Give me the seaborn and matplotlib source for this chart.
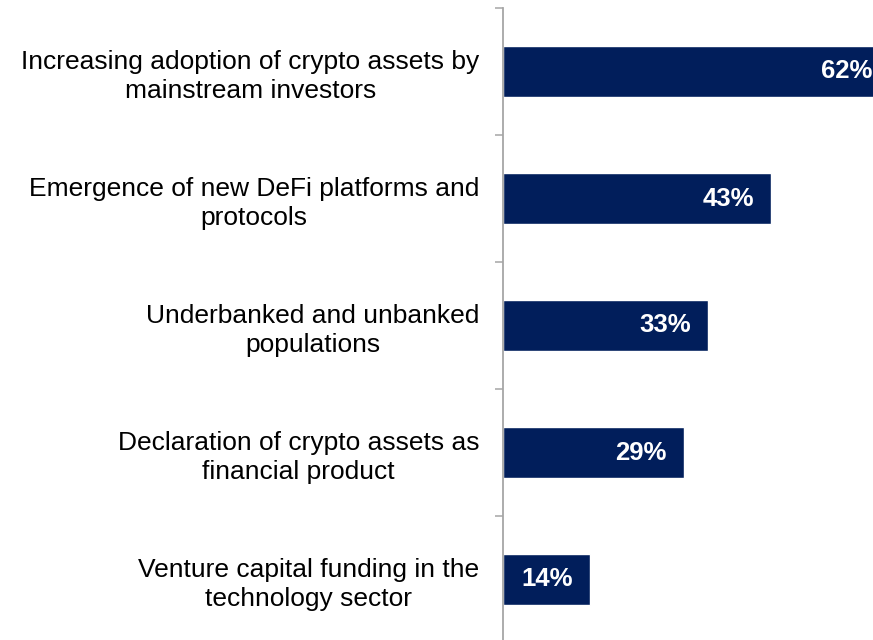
import matplotlib
matplotlib.use("Agg")
import matplotlib.pyplot as plt
import seaborn as sns
import pandas as pd

categories = [
    "Increasing adoption of crypto assets by\nmainstream investors",
    "Emergence of new DeFi platforms and\nprotocols",
    "Underbanked and unbanked\npopulations",
    "Declaration of crypto assets as\nfinancial product",
    "Venture capital funding in the\ntechnology sector",
]
values = [62, 43, 33, 29, 14]
value_labels = ["62%", "43%", "33%", "29%", "14%"]

sns.set_theme(style="white")
plt.rcParams["font.family"] = ["Liberation Sans", "DejaVu Sans"]

df = pd.DataFrame({"category": categories, "value": values})

W, H = 873, 640
fig = plt.figure(figsize=(W / 100, H / 100), dpi=100)
fig.patch.set_facecolor("white")
ax_left, ax_right = 503, 889
ax_top, ax_bottom = 8, 643
ax = fig.add_axes([ax_left / W, (H - ax_bottom) / H, (ax_right - ax_left) / W, (ax_bottom - ax_top) / H])
ax.set_facecolor("none")

sns.barplot(data=df, x="value", y="category", orient="h", color="#011e5b",
            width=0.4, saturation=1, ax=ax)

ax.set_xlim(0, 62)
ax.set_ylim(4.5, -0.5)
ax.set_xlabel("")
ax.set_ylabel("")
ax.set_xticks([])

for i, (v, lab) in enumerate(zip(values, value_labels)):
    ax.annotate(lab, xy=(v, i), xytext=(-17, 0), textcoords="offset pixels",
                ha="right", va="center", color="white", fontsize=18.5,
                fontweight="bold", annotation_clip=False)

ax.set_yticks(range(len(categories)))
ax.set_yticklabels(categories, fontsize=19, color="black", linespacing=1.28)
for t in ax.get_yticklabels():
    t.set_multialignment("center")
ax.tick_params(axis="y", which="major", length=0, pad=17)
ax.set_yticks([i - 0.5 for i in range(len(categories) + 1)], minor=True)
ax.tick_params(axis="y", which="minor", length=6, width=1.1, color="#a6a6a6", left=True)

for s in ["top", "right", "bottom"]:
    ax.spines[s].set_visible(False)
ax.spines["left"].set_color("#a6a6a6")
ax.spines["left"].set_linewidth(1.3)

fig.savefig("out.png", dpi=100, facecolor="white")
